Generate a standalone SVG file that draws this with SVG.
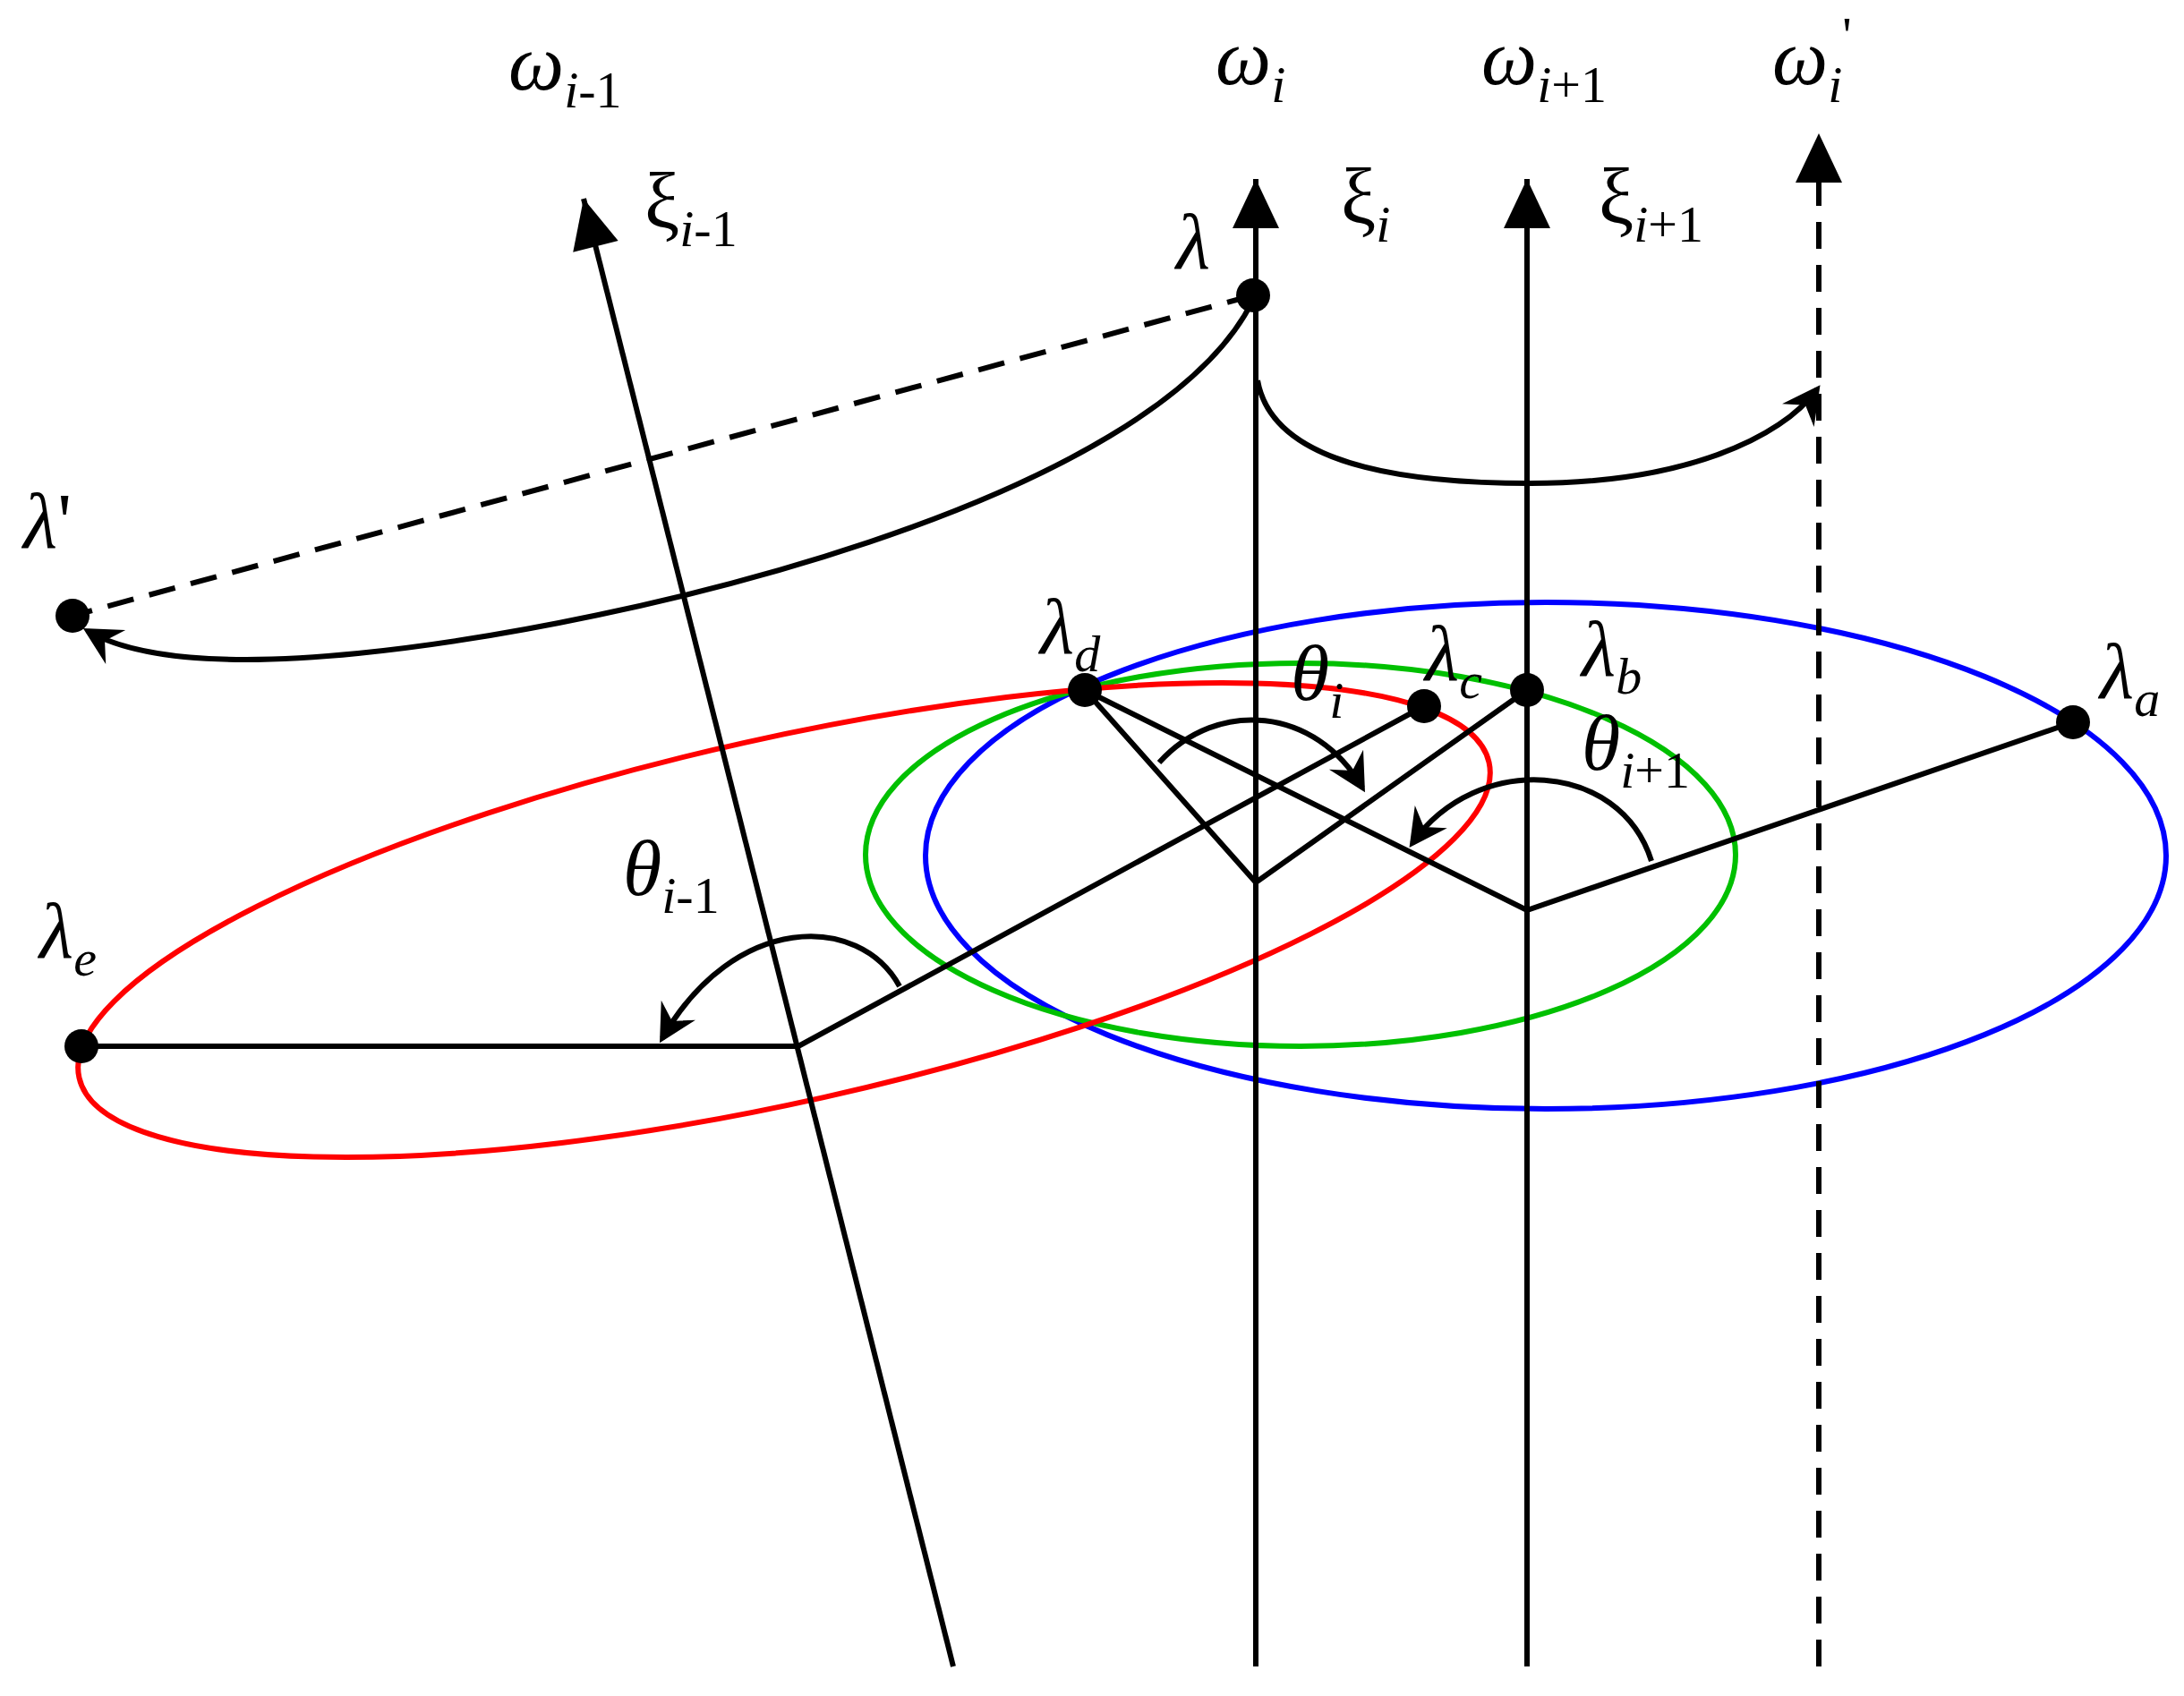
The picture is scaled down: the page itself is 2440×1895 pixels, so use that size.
<svg xmlns="http://www.w3.org/2000/svg" width="2440" height="1895" viewBox="0 0 2440 1895">
<style>
.l{stroke:#000;stroke-width:6;fill:none}
.d{stroke-dasharray:30,18}
text{font-family:"Liberation Serif","Times New Roman","DejaVu Serif",serif;font-size:88px;font-style:italic}
.s{font-size:58px}
.n{font-style:normal}
</style>
<defs>
<marker id="a" markerWidth="1" markerHeight="1" refX="0" refY="0" markerUnits="userSpaceOnUse" orient="auto" style="overflow:visible"><path d="M-36,-22 L6,0 L-36,22 L-22,0 Z" fill="#000"/></marker>
<marker id="t" markerWidth="1" markerHeight="1" refX="0" refY="0" orient="auto" markerUnits="userSpaceOnUse" style="overflow:visible"><path d="M-55,-26 L0,0 L-55,26 Z" fill="#000"/></marker>
</defs>
<rect width="2440" height="1895" fill="#fff"/>
<g id="ellipses">
<ellipse cx="1727" cy="956" rx="693" ry="283" stroke="#0000ff" stroke-width="6" fill="none"/>
<ellipse cx="1453" cy="955" rx="486" ry="214" stroke="#00c000" stroke-width="6" fill="none"/>
<ellipse cx="876" cy="1028" rx="807" ry="203" transform="rotate(-12.6 876 1028)" stroke="#ff0000" stroke-width="6" fill="none"/>
</g>
<g id="connectors">
<line class="l" x1="1403" y1="1862" x2="1403" y2="200" marker-end="url(#t)"/>
<line class="l" x1="1706" y1="1862" x2="1706" y2="200" marker-end="url(#t)"/>
<line class="l d" x1="2032" y1="1862" x2="2032" y2="200"/>
<path d="M2032,149 L2058,204 L2006,204 Z" fill="#000"/>
<line class="l" x1="1065" y1="1862" x2="652" y2="222" marker-end="url(#t)"/>
<line class="l d" x1="1400" y1="330" x2="81" y2="688"/>
<path class="l" d="M1400,335 C1290,560 700,700 400,730 C250,745 150,735 98,705" marker-end="url(#a)"/>
<path class="l" d="M1405,425 C1420,510 1540,540 1710,540 C1880,540 1990,490 2030,435" marker-end="url(#a)"/>
<polyline class="l" points="91,1169 892,1169 1591,789"/>
<polyline class="l" points="1212,771 1403,986 1706,771"/>
<polyline class="l" points="1212,771 1706,1017 2316,807"/>
<path class="l" d="M1005,1102 C960,1020 820,1020 740,1160" marker-end="url(#a)"/>
<path class="l" d="M1295,852 C1360,780 1470,790 1522,880" marker-end="url(#a)"/>
<path class="l" d="M1845,962 C1810,850 1650,840 1578,942" marker-end="url(#a)"/>
</g>
<g id="points" fill="#000">
<circle cx="1400" cy="330" r="19"/>
<circle cx="81" cy="688" r="19"/>
<circle cx="1212" cy="771" r="19"/>
<circle cx="1591" cy="789" r="19"/>
<circle cx="1706" cy="771" r="19"/>
<circle cx="2316" cy="807" r="19"/>
<circle cx="91" cy="1169" r="19"/>
</g>
<g id="labels">
<text x="568" y="100">ω<tspan class="s" dy="20">i</tspan><tspan class="s n">-1</tspan></text>
<text x="1358" y="94">ω<tspan class="s" dy="20">i</tspan></text>
<text x="1655" y="94">ω<tspan class="s" dy="20">i</tspan><tspan class="s n">+1</tspan></text>
<text x="1980" y="94">ω<tspan class="s" dy="20">i</tspan><tspan class="s n" dy="-55">'</tspan></text>
<text x="720" y="255" class="n">ξ<tspan class="s" dy="20" style="font-style:italic">i</tspan><tspan class="s">-1</tspan></text>
<text x="1498" y="250" class="n">ξ<tspan class="s" dy="20" style="font-style:italic">i</tspan></text>
<text x="1786" y="250" class="n">ξ<tspan class="s" dy="20" style="font-style:italic">i</tspan><tspan class="s">+1</tspan></text>
<text x="1314" y="300">λ</text>
<text x="26" y="612">λ<tspan class="n">'</tspan></text>
<text x="1162" y="730">λ<tspan class="s" dy="20">d</tspan></text>
<text x="1442" y="782">θ<tspan class="s" dy="20">i</tspan></text>
<text x="1592" y="760">λ<tspan class="s" dy="20">c</tspan></text>
<text x="1767" y="755">λ<tspan class="s" dy="20">b</tspan></text>
<text x="2346" y="780">λ<tspan class="s" dy="20">a</tspan></text>
<text x="1767" y="860">θ<tspan class="s" dy="20">i</tspan><tspan class="s n">+1</tspan></text>
<text x="696" y="1000">θ<tspan class="s" dy="20">i</tspan><tspan class="s n">-1</tspan></text>
<text x="44" y="1070">λ<tspan class="s" dy="20">e</tspan></text>
</g>
</svg>
